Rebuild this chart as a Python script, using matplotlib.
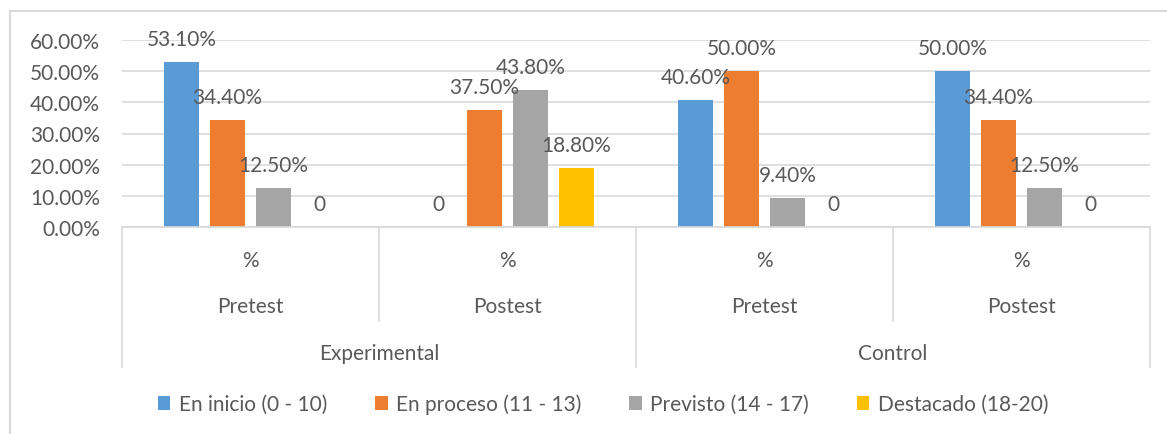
import matplotlib
matplotlib.use("Agg")
import matplotlib.pyplot as plt
import numpy as np
from matplotlib.patches import Patch
from matplotlib.transforms import blended_transform_factory

plt.rcParams["font.family"] = ["Lato", "DejaVu Sans"]

# data (percent values)
series_names = ["En inicio (0 - 10)", "En proceso (11 - 13)",
                "Previsto (14 - 17)", "Destacado (18-20)"]
colors = ["#5B9BD5", "#ED7D31", "#A5A5A5", "#FFC000"]
en_inicio = [53.1, 0.0, 40.6, 50.0]
en_proceso = [34.4, 37.5, 50.0, 34.4]
previsto = [12.5, 43.8, 9.4, 12.5]
destacado = [0.0, 18.8, 0.0, 0.0]
row1 = ["%", "%", "%", "%"]
row2 = ["Pretest", "Postest", "Pretest", "Postest"]
groups = ["Experimental", "Control"]
yticks = [0, 10, 20, 30, 40, 50, 60]

TEXT = "#595959"
GRID = "#D9D9D9"
FS = 15
W, H = 1167, 435


def fy(ypx):
    return 1 - ypx / H


fig = plt.figure(figsize=(W / 100, H / 100), dpi=100)
ax = fig.add_axes([122 / W, fy(228), (1150 - 122) / W, (228 - 41) / H])

x = np.arange(len(row1))
step = 0.179
width = 0.14
all_series = [en_inicio, en_proceso, previsto, destacado]
for i, vals in enumerate(all_series):
    pos = x + (i - 1.5) * step
    ax.bar(pos, vals, width=width, color=colors[i], zorder=2)
    for xp, v in zip(pos, vals):
        lab = "0" if v == 0 else f"{v:.2f}%"
        ax.annotate(lab, (xp, v), xytext=(0, 23), textcoords="offset pixels",
                    ha="center", va="center", fontsize=FS, color=TEXT)

ax.set_xlim(-0.5, 3.5)
ax.set_ylim(0, 60)
ax.set_yticks(yticks)
ax.set_yticklabels([f"{t:.2f}%" for t in yticks], fontsize=FS, color=TEXT)
ax.tick_params(axis="y", length=0, pad=16)
ax.set_xticks([])
ax.grid(axis="y", color=GRID, linewidth=1.2, zorder=0)
ax.set_axisbelow(True)
for s in ["left", "right", "top"]:
    ax.spines[s].set_visible(False)
ax.spines["bottom"].set_color(GRID)
ax.spines["bottom"].set_linewidth(1.2)

# multi-level category axis
tr = blended_transform_factory(ax.transData, fig.transFigure)
for b in [-0.5, 1.5, 3.5]:
    ax.plot([b, b], [fy(228), fy(368)], transform=tr, color=GRID,
            lw=1.2, clip_on=False)
for b in [0.5, 2.5]:
    ax.plot([b, b], [fy(228), fy(322)], transform=tr, color=GRID,
            lw=1.2, clip_on=False)
for xi, (a, b) in enumerate(zip(row1, row2)):
    ax.text(xi, fy(261), a, transform=tr, ha="center", va="center",
            fontsize=FS, color=TEXT)
    ax.text(xi, fy(307), b, transform=tr, ha="center", va="center",
            fontsize=FS, color=TEXT)
for gi, g in enumerate(groups):
    ax.text(gi * 2 + 0.5, fy(354), g, transform=tr, ha="center",
            va="center", fontsize=FS, color=TEXT)

handles = [Patch(facecolor=c, edgecolor="none") for c in colors]
fig.legend(handles, series_names, loc="center", ncol=4, frameon=False,
           bbox_to_anchor=(603 / W, fy(405)), fontsize=FS,
           labelcolor=TEXT, handlelength=0.6, handleheight=0.6,
           handletextpad=0.4, columnspacing=2.3)

# chart border (left and top edges visible)
fig.add_artist(plt.Line2D([10 / W, 10 / W], [fy(12), 0], color=GRID,
                          lw=1.5, transform=fig.transFigure))
fig.add_artist(plt.Line2D([10 / W, 1], [fy(12), fy(12)], color=GRID,
                          lw=1.5, transform=fig.transFigure))

fig.savefig("out.png", dpi=100)
